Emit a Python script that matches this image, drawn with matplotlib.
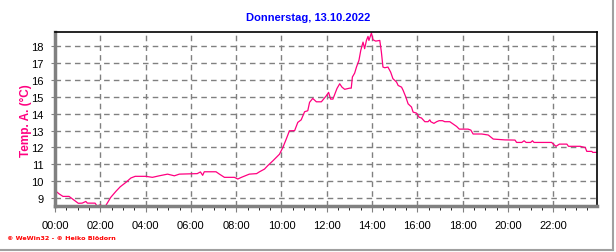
import matplotlib
matplotlib.use("Agg")
import matplotlib.pyplot as plt
from matplotlib.lines import Line2D

# hours after midnight
hours = [0.00, 0.18, 0.35, 0.62, 1.03, 1.20, 1.36, 1.43, 1.77, 1.86, 2.00, 2.08,
         2.24, 2.46, 2.69, 2.88, 3.13, 3.35, 3.54, 4.01, 4.30, 4.60, 4.97, 5.27,
         5.49, 6.28, 6.42, 6.52, 6.59, 7.11, 7.26, 7.48, 7.92, 8.07, 8.23, 8.58,
         8.90, 9.03, 9.25, 9.39, 9.62, 9.77, 9.91, 10.06, 10.21, 10.35, 10.58,
         10.72, 10.87, 11.02, 11.16, 11.24, 11.38, 11.54, 11.76, 11.98, 12.08,
         12.17, 12.27, 12.45, 12.57, 12.67, 12.79, 13.01, 13.08, 13.13, 13.23,
         13.31, 13.42, 13.50, 13.60, 13.67, 13.75, 13.82, 13.86, 13.97, 14.04,
         14.16, 14.34, 14.41, 14.48, 14.56, 14.70, 14.82, 14.92, 15.08, 15.15,
         15.30, 15.37, 15.49, 15.59, 15.74, 15.81, 15.96, 16.08, 16.18, 16.33,
         16.47, 16.55, 16.59, 16.73, 16.85, 16.96, 17.11, 17.21, 17.43, 17.58,
         17.73, 17.85, 18.24, 18.36, 18.46, 18.84, 19.13, 19.35, 19.87, 20.31,
         20.38, 20.61, 20.71, 20.80, 21.00, 21.08, 21.15, 21.93, 22.00, 22.12,
         22.27, 22.60, 22.67, 23.19, 23.41, 23.48, 23.70, 23.74, 23.90]
temps = [9.45, 9.25, 9.10, 9.10, 8.69, 8.70, 8.80, 8.70, 8.70, 8.52, 8.60, 8.52,
         8.55, 9.04, 9.40, 9.67, 9.93, 10.19, 10.29, 10.29, 10.23, 10.32, 10.42, 10.32,
         10.42, 10.45, 10.55, 10.35, 10.56, 10.56, 10.42, 10.23, 10.23, 10.13, 10.23, 10.42,
         10.45, 10.56, 10.72, 10.92, 11.21, 11.41, 11.60, 12.00, 12.50, 12.99, 13.00,
         13.49, 13.64, 14.12, 14.18, 14.68, 14.91, 14.71, 14.71, 15.07, 15.27,
         14.87, 14.87, 15.50, 15.78, 15.58, 15.45, 15.52, 15.52, 16.18, 16.41,
         16.77, 17.17, 17.76, 18.25, 17.86, 18.35, 18.59, 18.35, 18.79, 18.39,
         18.31, 18.35, 17.66, 16.77, 16.73, 16.77, 16.47, 16.08, 15.88, 15.68,
         15.58, 15.39, 14.99, 14.59, 14.40, 14.10, 14.04, 13.79, 13.75, 13.53,
         13.53, 13.64, 13.53, 13.43, 13.53, 13.59, 13.59, 13.53, 13.53, 13.39,
         13.25, 13.09, 13.09, 13.03, 12.80, 12.80, 12.74, 12.50, 12.45, 12.44,
         12.30, 12.30, 12.40, 12.30, 12.30, 12.40, 12.30, 12.30, 12.20, 12.07,
         12.20, 12.20, 12.07, 12.07, 12.00, 11.77, 11.77, 11.71, 11.71]

x_ticks = list(range(0, 24, 2))
x_labels = [f"{h:02d}:00" for h in x_ticks]
y_ticks = list(range(9, 19))

TITLE = "Donnerstag, 13.10.2022"
YLABEL = "Temp. A. (°C)"
FOOTER = "© WeWin32 - © Heiko Blödorn"

plt.rcParams["font.family"] = ["Liberation Sans", "DejaVu Sans"]

fig = plt.figure(figsize=(6.16, 2.53), dpi=100)
ax = fig.add_axes([55 / 616, 46 / 253, 542 / 616, 174 / 253])

ax.plot(hours, temps, color="#ff0080", lw=0.9)

ax.set_xlim(0, 23.93)
ax.set_ylim(8.53, 18.85)
ax.set_xticks(x_ticks)
ax.set_xticklabels(x_labels)
ax.set_xticks([h / 2 for h in range(48)], minor=True)
ax.set_yticks(y_ticks)
ax.tick_params(axis="both", labelsize=8, colors="#808080", labelcolor="black")
ax.tick_params(axis="x", which="major", length=4, pad=6)
ax.tick_params(axis="x", which="minor", length=3)
ax.tick_params(axis="y", length=3, pad=5)

ax.grid(True, which="major", color="#808080", ls=(0, (4, 3)), lw=1.0)

for side in ("left", "bottom"):
    ax.spines[side].set_color("#808080")
    ax.spines[side].set_linewidth(2.5)
for side in ("top", "right"):
    ax.spines[side].set_color("black")
    ax.spines[side].set_linewidth(1.2)

fig.text(0.5, 0.927, TITLE, color="#0000ff", fontsize=8,
         fontweight="bold", ha="center", va="center")
fig.text(0.043, 0.522, YLABEL, color="#ff0080", fontsize=8.5,
         fontweight="bold", rotation=90, ha="center", va="center")
fig.text(7 / 616, 1 - 239 / 253, FOOTER, color="#ff0000", fontsize=4.6,
         fontweight="bold", ha="left", va="center", family="DejaVu Sans")

# light grey window edge on the right and bottom
fig.add_artist(Line2D([613 / 616, 613 / 616], [1 - 251 / 253, 1], color="#a0a0a0",
                      lw=1.5, transform=fig.transFigure))
fig.add_artist(Line2D([0, 613 / 616], [1 - 251 / 253, 1 - 251 / 253], color="#a0a0a0",
                      lw=1.5, transform=fig.transFigure))

fig.savefig("out.png", dpi=100)
